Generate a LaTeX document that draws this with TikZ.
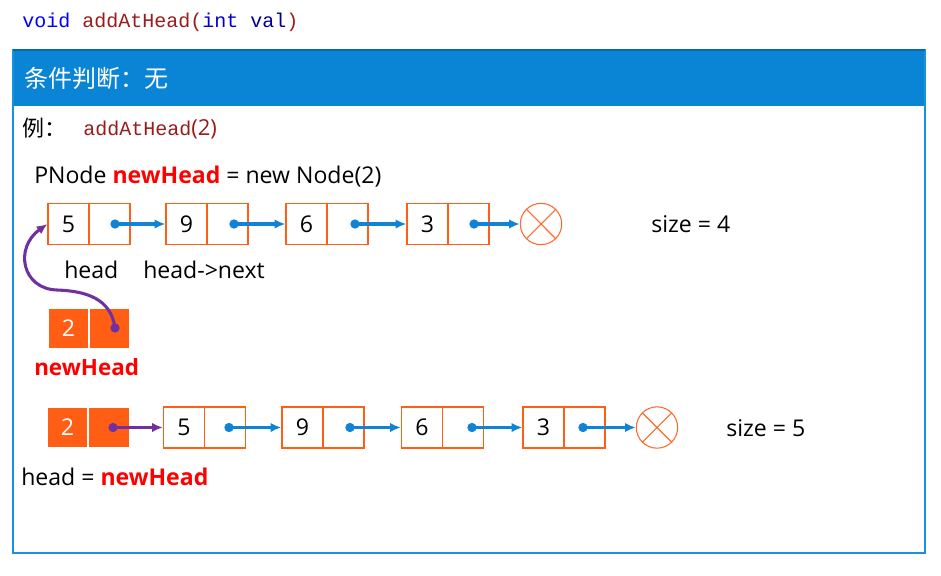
\documentclass[tikz,border=0pt]{standalone}
\usepackage{fontspec}
\setmainfont{Open Sans}
\setmonofont{Liberation Mono}
\newfontfamily\cjkfont{Noto Sans CJK SC}
\usetikzlibrary{arrows.meta}
\definecolor{nodeor}{HTML}{FF5E14}
\definecolor{nullor}{HTML}{FF6A2A}
\definecolor{arrblue}{HTML}{0F83D6}
\definecolor{headblue}{HTML}{0A84D4}
\definecolor{frameblue}{HTML}{1A90E0}
\definecolor{pur}{HTML}{7030A0}
\definecolor{codered}{HTML}{991C1C}
\definecolor{codeblue}{HTML}{0000FF}
\definecolor{codenavy}{HTML}{000090}
\definecolor{hot}{HTML}{FF0000}
\begin{document}
\begin{tikzpicture}[x=0.75pt,y=-0.75pt,
  txt/.style={font=\fontsize{17.3}{20}\selectfont},
  cell/.style={draw=nodeor, line width=0.9pt, minimum width=30.75pt, minimum height=30.75pt, inner sep=0pt, txt},
  fcell/.style={fill=nodeor, draw=none, minimum width=29.5pt, minimum height=29pt, inner sep=0pt, text=white, txt},
  ptr/.style={draw=arrblue, line width=2.3pt, -{Latex[length=8pt,width=7pt]}},
  pptr/.style={draw=pur, line width=2.3pt, -{Latex[length=8pt,width=7pt]}},
  bdot/.style={circle, fill=arrblue, inner sep=0pt, minimum size=7pt},
  pdot/.style={circle, fill=pur, inner sep=0pt, minimum size=7pt},
  nullc/.style={circle, draw=nullor, line width=0.8pt, minimum size=31pt, inner sep=0pt},
  lbl/.style={anchor=base west, inner sep=0pt, txt},
  cjk/.style={anchor=west, inner sep=0pt}
]
\useasboundingbox (0,0) rectangle (941,575);

% title
\node[anchor=base west, inner sep=0pt, font=\fontsize{15}{18}\ttfamily] (title) at (22,27)
  {\textcolor{codeblue}{void} \textcolor{codered}{addAtHead(}\textcolor{codeblue!80!black}{int} \textcolor{codenavy}{val}\textcolor{codered}{)}};

% frame
\fill[headblue] (13,50) rectangle (925,106);
\draw[frameblue, line width=1pt] (13,50) rectangle (925,553);
\draw[headblue!80!black, line width=1pt] (13,50) -- (925,50);
\node[cjk, text=white, font=\cjkfont\fontsize{18}{20}\selectfont] (hdr) at (24,78) {条件判断：无};

% example line
\node[cjk, font=\cjkfont\fontsize{16.5}{20}\selectfont] (ex) at (22,128) {例：};
\node[anchor=base west, inner sep=0pt, font=\fontsize{15}{18}\ttfamily, text=codered] (excall) at (83,135) {addAtHead\textrm{\fontsize{16.5}{20}\selectfont(2)}};

\node[lbl] (decl) at (34,183) {PNode \textcolor{hot}{\bfseries newHead} = new Node(2)};

% row 1 list
\node[cell] (a1) at (68.5,224) {5};
\node[cell] (a1n) at (109.5,224) {};
\node[cell] (a2) at (186.5,224) {9};
\node[cell] (a2n) at (227.5,224) {};
\node[cell] (a3) at (306.5,224) {6};
\node[cell] (a3n) at (347.5,224) {};
\node[cell] (a4) at (427.5,224) {3};
\node[cell] (a4n) at (468.5,224) {};
\node[nullc] (an) at (541,224) {};
\draw[nullor, line width=0.8pt] (an.45) -- (an.225) (an.135) -- (an.315);

\node[bdot] (ad1) at (115,224) {};
\node[bdot] (ad2) at (234,224) {};
\node[bdot] (ad3) at (355,224) {};
\node[bdot] (ad4) at (474,224) {};
\draw[ptr] (ad1.center) -- (a2.west);
\draw[ptr] (ad2.center) -- (a3.west);
\draw[ptr] (ad3.center) -- (a4.west);
\draw[ptr] (ad4.center) -- (an.west);

\node[lbl] (sz4) at (651,232) {size = 4};
\node[lbl] (hd) at (64,278) {head};
\node[lbl] (hdn) at (143,278) {head->next};

% new head node
\node[fcell] (p1) at (68.5,328.5) {2};
\node[fcell] (p1n) at (109.5,328.5) {};
\node[pdot] (pd1) at (115,328) {};
\coordinate (bend) at (57,290);
\draw[pptr] (pd1.center) .. controls (111,298) and (85,291) .. (bend)
  .. controls (22,289) and (14,248) .. (a1.west);
\node[lbl, text=hot, font=\bfseries\fontsize{16.8}{20}\selectfont] (nhl) at (34,375) {newHead};

% row 2 list
\node[fcell] (q1) at (67.5,427.5) {2};
\node[fcell] (q1n) at (109,427.5) {};
\node[cell] (b1) at (184,427.5) {5};
\node[cell] (b1n) at (225,427.5) {};
\node[cell] (b2) at (302.5,427.5) {9};
\node[cell] (b2n) at (343.5,427.5) {};
\node[cell] (b3) at (422,427.5) {6};
\node[cell] (b3n) at (463,427.5) {};
\node[cell] (b4) at (543.5,427.5) {3};
\node[cell] (b4n) at (584.5,427.5) {};
\node[nullc] (bn) at (657,427.5) {};
\draw[nullor, line width=0.8pt] (bn.45) -- (bn.225) (bn.135) -- (bn.315);

\node[pdot] (pd2) at (113,427.5) {};
\draw[pptr] (pd2.center) -- (b1.west);
\node[bdot] (bd1) at (229,427.5) {};
\node[bdot] (bd2) at (350,427.5) {};
\node[bdot] (bd3) at (472,427.5) {};
\node[bdot] (bd4) at (583,427.5) {};
\draw[ptr] (bd1.center) -- (b2.west);
\draw[ptr] (bd2.center) -- (b3.west);
\draw[ptr] (bd3.center) -- (b4.west);
\draw[ptr] (bd4.center) -- (bn.west);

\node[lbl] (sz5) at (726,436) {size = 5};
\node[lbl] (assign) at (21,485) {head = \textcolor{hot}{\bfseries newHead}};
\end{tikzpicture}
\end{document}
